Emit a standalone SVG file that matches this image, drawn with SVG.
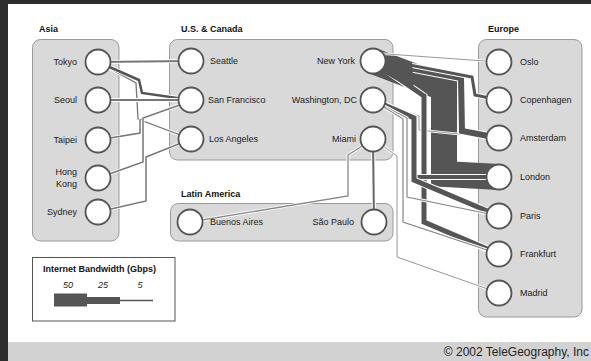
<svg xmlns="http://www.w3.org/2000/svg" width="591" height="361" viewBox="0 0 591 361">
<style>
.box{fill:#d9d9d9;stroke:#9a9a9a;stroke-width:1}
.node{fill:#fff;stroke:#555;stroke-width:1.8}
.lbl{font-family:"Liberation Sans",Arial,sans-serif;font-size:9px;fill:#1a1a1a}
.ttl{font-family:"Liberation Sans",Arial,sans-serif;font-size:9px;font-weight:bold;fill:#111}
.cas{fill:none;stroke:#fff;stroke-linejoin:miter}
.ln{fill:none;stroke-linejoin:miter}
</style>
<rect width="591" height="361" fill="#2d2d2d"/>
<rect x="8" y="4" width="583" height="338" fill="#fff"/>
<rect x="8" y="342" width="583" height="19" fill="#d2d2d2"/>
<text x="589" y="356" text-anchor="end" font-family="Liberation Sans, Arial, sans-serif" font-size="12" fill="#222">© 2002 TeleGeography, Inc</text>

<g id="region-asia"><rect class="box" x="32.5" y="39.5" width="86.5" height="201.5" rx="8"/><text class="ttl" x="39" y="32">Asia</text></g>
<g id="region-us-canada"><rect class="box" x="169.5" y="39.5" width="223.5" height="120.5" rx="8"/><text class="ttl" x="181" y="32">U.S. &amp; Canada</text></g>
<g id="region-latin-america"><rect class="box" x="170.5" y="203.5" width="222.5" height="37.5" rx="8"/><text class="ttl" x="181" y="197">Latin America</text></g>
<g id="region-europe"><rect class="box" x="478.5" y="39.5" width="103.5" height="277.5" rx="8"/><text class="ttl" x="488" y="32">Europe</text></g>

<g id="connectors">
<!-- Asia - US -->
<path class="cas" stroke-width="4" d="M98,62 L191,61"/><path class="ln" stroke="#777" stroke-width="2" d="M98,62 L191,61"/>
<path class="cas" stroke-width="3" d="M98,62 L136,83 L138,119 L191,139"/><path class="ln" stroke="#777" stroke-width="1.3" d="M98,62 L136,83 L138,119 L191,139"/>
<path class="cas" stroke-width="4.5" d="M98,62 L139,80 L142,93 L191,100"/><path class="ln" stroke="#555" stroke-width="2.5" d="M98,62 L139,80 L142,93 L191,100"/>
<path class="cas" stroke-width="4" d="M98,100 L191,100"/><path class="ln" stroke="#777" stroke-width="2" d="M98,100 L191,100"/>
<path class="cas" stroke-width="3" d="M98,140 L140,133 L140,120 L191,100"/><path class="ln" stroke="#777" stroke-width="1.5" d="M98,140 L140,133 L140,120 L191,100"/>
<path class="cas" stroke-width="3" d="M98,178 L143,162 L143,118 L191,101"/><path class="ln" stroke="#777" stroke-width="1.5" d="M98,178 L143,162 L143,118 L191,101"/>
<path class="cas" stroke-width="3" d="M98,212 L146,201 L146,157 L191,139"/><path class="ln" stroke="#777" stroke-width="1.5" d="M98,212 L146,201 L146,157 L191,139"/>
<!-- US - Latin America -->
<path class="cas" stroke-width="3" d="M373,139 L348,155 L348,196 L190,222"/><path class="ln" stroke="#888" stroke-width="1.3" d="M373,139 L348,155 L348,196 L190,222"/>
<path class="cas" stroke-width="4" d="M373,139 L374,222"/><path class="ln" stroke="#666" stroke-width="2" d="M373,139 L374,222"/>
<!-- US - Europe -->
<path class="ln" stroke="#555" stroke-width="26" d="M373,61 L444,88 L444,174 L499,177"/>
<path class="cas" stroke-width="2.5" d="M373,100 L419,116 L419,130 L499,138"/><path class="ln" stroke="#999" stroke-width="1" d="M373,100 L419,116 L419,130 L499,138"/>
<path class="cas" stroke-width="8" d="M373,61 L461,78 L462,131 L499,138"/><path class="ln" stroke="#555" stroke-width="6" d="M373,61 L461,78 L462,131 L499,138"/>
<path class="cas" stroke-width="5" d="M373,58 L472,77 L475,95 L499,100"/><path class="ln" stroke="#555" stroke-width="3" d="M373,58 L472,77 L475,95 L499,100"/>
<path class="cas" stroke-width="7" d="M373,61 L424,96 L424,222 L499,254"/><path class="ln" stroke="#555" stroke-width="5" d="M373,61 L424,96 L424,222 L499,254"/>
<polygon fill="#555" points="378,56 412,62 414,90 378,70"/>
<path class="cas" stroke-width="2.5" d="M373,53 L499,62"/><path class="ln" stroke="#999" stroke-width="1" d="M373,53 L499,62"/>
<path class="cas" stroke-width="6" d="M373,100 L414,117 L414,177 L499,177"/><path class="ln" stroke="#555" stroke-width="4" d="M373,100 L414,117 L414,177 L499,177"/>
<path class="cas" stroke-width="7" d="M373,100 L414,118 L414,180 L499,216"/><path class="ln" stroke="#555" stroke-width="5" d="M373,100 L414,118 L414,180 L499,216"/>
<path class="cas" stroke-width="3" d="M373,100 L407,118 L407,197 L499,216"/><path class="ln" stroke="#888" stroke-width="1.2" d="M373,100 L407,118 L407,197 L499,216"/>
<path class="cas" stroke-width="3" d="M373,100 L403,119 L403,222 L499,254"/><path class="ln" stroke="#888" stroke-width="1.2" d="M373,100 L403,119 L403,222 L499,254"/>
<path class="cas" stroke-width="2.5" d="M373,139 L397,156 L397,257 L499,293"/><path class="ln" stroke="#999" stroke-width="1" d="M373,139 L397,156 L397,257 L499,293"/>
</g>

<g id="tokyo"><circle class="node" cx="98" cy="62" r="12.5"/><text class="lbl" x="77" y="65" text-anchor="end">Tokyo</text></g>
<g id="seoul"><circle class="node" cx="98" cy="100" r="12.5"/><text class="lbl" x="77" y="103" text-anchor="end">Seoul</text></g>
<g id="taipei"><circle class="node" cx="98" cy="140" r="12.5"/><text class="lbl" x="77" y="143" text-anchor="end">Taipei</text></g>
<g id="hong-kong"><circle class="node" cx="98" cy="178" r="12.5"/><text class="lbl" x="77" y="175" text-anchor="end">Hong</text><text class="lbl" x="77" y="187" text-anchor="end">Kong</text></g>
<g id="sydney"><circle class="node" cx="98" cy="212" r="12.5"/><text class="lbl" x="77" y="215" text-anchor="end">Sydney</text></g>

<g id="seattle"><circle class="node" cx="191" cy="61" r="12.5"/><text class="lbl" x="210" y="64">Seattle</text></g>
<g id="san-francisco"><circle class="node" cx="191" cy="100" r="12.5"/><text class="lbl" x="208" y="103">San Francisco</text></g>
<g id="los-angeles"><circle class="node" cx="191" cy="139" r="12.5"/><text class="lbl" x="209" y="142">Los Angeles</text></g>
<g id="new-york"><circle class="node" cx="373" cy="61" r="12.5"/><text class="lbl" x="355" y="64" text-anchor="end">New York</text></g>
<g id="washington-dc"><circle class="node" cx="373" cy="100" r="12.5"/><text class="lbl" x="357" y="103" text-anchor="end">Washington, DC</text></g>
<g id="miami"><circle class="node" cx="373" cy="139" r="12.5"/><text class="lbl" x="356" y="142" text-anchor="end">Miami</text></g>

<g id="buenos-aires"><circle class="node" cx="190" cy="222" r="12.5"/><text class="lbl" x="210" y="225">Buenos Aires</text></g>
<g id="sao-paulo"><circle class="node" cx="374" cy="222" r="12.5"/><text class="lbl" x="354" y="225" text-anchor="end">São Paulo</text></g>

<g id="oslo"><circle class="node" cx="499" cy="62" r="12.5"/><text class="lbl" x="520" y="65">Oslo</text></g>
<g id="copenhagen"><circle class="node" cx="499" cy="100" r="12.5"/><text class="lbl" x="520" y="103">Copenhagen</text></g>
<g id="amsterdam"><circle class="node" cx="499" cy="138" r="12.5"/><text class="lbl" x="520" y="141">Amsterdam</text></g>
<g id="london"><circle class="node" cx="499" cy="177" r="12.5"/><text class="lbl" x="520" y="180">London</text></g>
<g id="paris"><circle class="node" cx="499" cy="216" r="12.5"/><text class="lbl" x="520" y="219">Paris</text></g>
<g id="frankfurt"><circle class="node" cx="499" cy="254" r="12.5"/><text class="lbl" x="520" y="257">Frankfurt</text></g>
<g id="madrid"><circle class="node" cx="499" cy="293" r="12.5"/><text class="lbl" x="520" y="296">Madrid</text></g>

<g id="legend">
<rect x="32.5" y="257.5" width="142.5" height="63.5" fill="#fff" stroke="#555" stroke-width="1"/>
<text class="ttl" x="43" y="272" font-size="8.5">Internet Bandwidth (Gbps)</text>
<text class="lbl" x="68" y="288" text-anchor="middle" font-style="italic" font-size="8.5">50</text>
<text class="lbl" x="103" y="288" text-anchor="middle" font-style="italic" font-size="8.5">25</text>
<text class="lbl" x="140" y="288" text-anchor="middle" font-style="italic" font-size="8.5">5</text>
<rect x="54" y="293.5" width="33" height="13" fill="#555"/>
<rect x="87" y="297" width="33" height="7" fill="#555"/>
<line x1="120" y1="300.5" x2="153" y2="300.5" stroke="#555" stroke-width="1.3"/>
</g>
</svg>
